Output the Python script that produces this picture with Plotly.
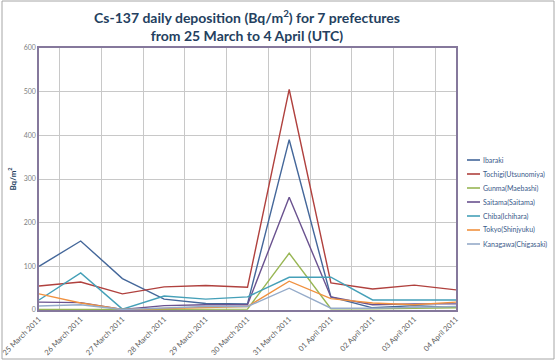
import plotly.graph_objects as go

dates = ["25 March 2011", "26 March 2011", "27 March 2011", "28 March 2011",
         "29 March 2011", "30 March 2011", "31 March 2011", "01 April 2011",
         "02 April 2011", "03 April 2011", "04 April 2011"]

ibaraki = [100, 158, 72, 25, 15, 14, 390, 30, 5, 10, 6]
tochigi = [55, 64, 37, 53, 56, 52, 505, 62, 48, 57, 46]
gunma = [1, 1, 1, 1, 2, 2, 130, 3, 3, 4, 5]
saitama = [18, 17, 1, 10, 12, 12, 258, 30, 12, 14, 14]
chiba = [23, 85, 2, 32, 25, 30, 75, 75, 23, 23, 23]
tokyo = [37, 16, 1, 3, 6, 8, 66, 26, 16, 12, 18]
kanagawa = [9, 12, 1, 5, 8, 8, 50, 4, 4, 6, 8]

names = ["Ibaraki", "Tochigi(Utsunomiya)", "Gunma(Maebashi)", "Saitama(Saitama)",
         "Chiba(Ichihara)", "Tokyo(Shinjyuku)", "Kanagawa(Chigasaki)"]
values = [ibaraki, tochigi, gunma, saitama, chiba, tokyo, kanagawa]
colors = ["#44679a", "#b0413e", "#98b654", "#6a528f", "#45a0b8", "#f0913f", "#95abc9"]

L, R, T, B = 39, 100, 48, 51
W, H = 556, 361
pw, ph = W - L - R, H - T - B

fig = go.Figure()
shapes = [dict(type="rect", xref="paper", yref="paper",
               x0=-(L - 2) / pw, x1=(554 - L) / pw,
               y0=-(359 - (H - B)) / ph, y1=((H - B) - 1) / ph,
               line=dict(color="#a6a6a6", width=1), layer="below")]
annotations = []
for i, (name, vals, col) in enumerate(zip(names, values, colors)):
    fig.add_trace(go.Scatter(x=dates, y=vals, name=name, mode="lines",
                             showlegend=False,
                             line=dict(color=col, width=1.4)))
    ypx = 160 + 14 * i
    yp = ((H - B) - ypx) / ph
    shapes.append(dict(type="line", xref="paper", yref="paper",
                       x0=(467 - L) / pw, x1=(480 - L) / pw, y0=yp, y1=yp,
                       line=dict(color=col, width=1.6)))
    annotations.append(dict(text=name, xref="paper", yref="paper",
                            x=(481 - L) / pw, y=yp, xanchor="left", yanchor="middle",
                            showarrow=False,
                            font=dict(family="Lato", size=7, color="#3a5a8a")))

fig.update_layout(
    width=W, height=H,
    margin=dict(l=L, r=R, t=T, b=B, autoexpand=False),
    paper_bgcolor="white", plot_bgcolor="white",
    title=dict(text="Cs-137 daily deposition (Bq/m<sup>2</sup>) for 7 prefectures<br>from 25 March to 4 April (UTC)",
               x=247 / W, xanchor="center", y=1 - 23 / H, yanchor="middle",
               font=dict(family="Lato", size=14, color="#243f60", weight="bold")),
    font=dict(family="Lato"),
    showlegend=False,
    shapes=shapes,
    annotations=annotations,
)

fig.update_xaxes(type="category", tickson="boundaries", showgrid=True, automargin=False,
                 gridcolor="#c8c8c8", gridwidth=1, tickangle=-45,
                 tickfont=dict(size=7.5, color="#595959"), ticks="",
                 showline=True, linecolor="#85789c", linewidth=1.5, mirror=True)
fig.update_yaxes(range=[0, 600], dtick=100, showgrid=True, gridcolor="#c8c8c8",
                 automargin=False,
                 gridwidth=1, tickfont=dict(size=7, color="#7f7f7f"),
                 showline=True, linecolor="#85789c", linewidth=1.5, mirror=True,
                 zeroline=False, ticks="",
                 title=dict(text="Bq/m<sup>2</sup>", standoff=6,
                            font=dict(size=8, color="#243f60", weight="bold")))

fig.write_html("out.html", config={"displayModeBar": False},
               post_script="document.body.style.margin='0';document.body.style.padding='0';")
